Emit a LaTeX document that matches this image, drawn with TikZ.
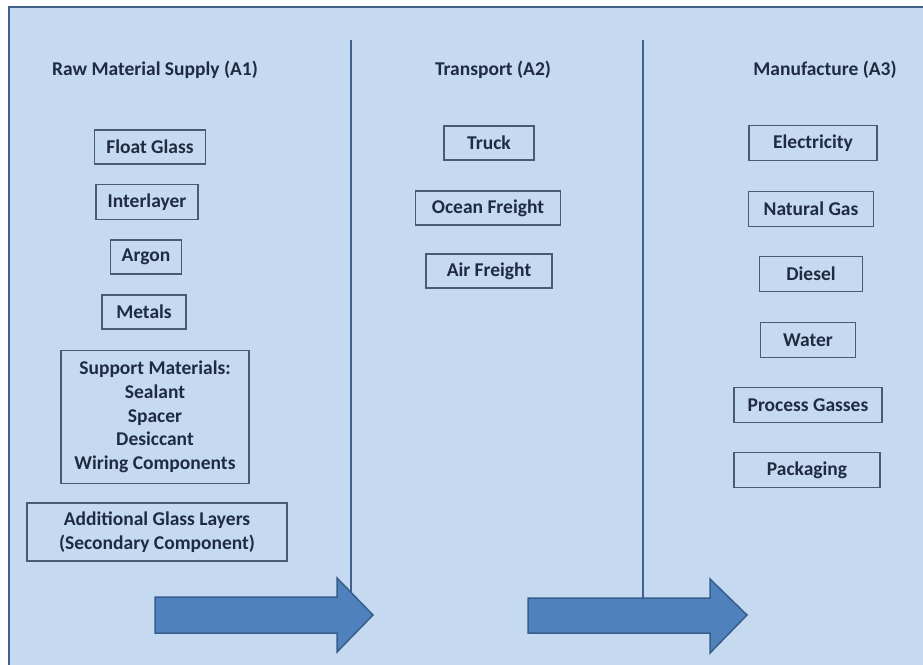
\documentclass[tikz,border=0pt]{standalone}
\usepackage{fontspec}
\setmainfont{Carlito}

\definecolor{panelfill}{HTML}{C5D9F1}
\definecolor{panelline}{HTML}{41618A}
\definecolor{boxline}{HTML}{4A5A70}
\definecolor{inktext}{HTML}{1F2B40}
\definecolor{arrowfill}{HTML}{4F81BD}
\definecolor{arrowline}{HTML}{385D8A}

\begin{document}
\begin{tikzpicture}[x=1pt, y=-1pt,
  panel/.style ={draw=panelline, line width=2.2pt, fill=panelfill},
  divider/.style ={draw=panelline, line width=2.6pt},
  head/.style  ={font=\fontsize{19.5}{23.5}\selectfont\bfseries, text=inktext},
  item/.style  ={draw=boxline, line width=1.2pt, font=\fontsize{19.5}{23.7}\selectfont\bfseries,
                 text=inktext, align=center, inner sep=0pt},
  flow/.style  ={draw=arrowline, line width=1.5pt, fill=arrowfill}]

  \useasboundingbox (0,0) rectangle (923,664);

  % ---------------- background panel ----------------
  \begin{scope}
    \clip (0,0) rectangle (923,664);
    \path[panel] (9,7) rectangle (935,680);
  \end{scope}

  % ---------------- stage dividers ----------------
  \draw[divider] (351,40) -- (351,600);
  \draw[divider] (643,40) -- (643,600);

  % ---------------- stage headings ----------------
  \node[head] (hA1) at (155,70) {Raw Material Supply (A1)};
  \node[head] (hA2) at (493,70) {Transport (A2)};
  \node[head] (hA3) at (825,70) {Manufacture (A3)};

  % ---------------- raw material supply (A1) ----------------
  \node[item, minimum width=111pt, minimum height=34pt] (float) at (150,147) {Float Glass};
  \node[item, minimum width=102pt, minimum height=35pt] (inter) at (147,202) {Interlayer};
  \node[item, minimum width=71pt,  minimum height=34pt] (argon) at (146,257) {Argon};
  \node[item, minimum width=84pt,  minimum height=34pt] (metal) at (144,312) {Metals};
  \node[item, minimum width=188pt, minimum height=133pt] (support) at (155,417)
       {Support Materials:\\Sealant\\Spacer\\Desiccant\\Wiring Components};
  \node[item, minimum width=260pt, minimum height=58pt] (layers) at (157,532)
       {Additional Glass Layers\\(Secondary Component)};

  % ---------------- transport (A2) ----------------
  \node[item, minimum width=90pt,  minimum height=34pt] (truck) at (489,143) {Truck};
  \node[item, minimum width=145pt, minimum height=34pt] (ocean) at (488,208) {Ocean Freight};
  \node[item, minimum width=126pt, minimum height=34pt] (air)   at (489,271) {Air Freight};

  % ---------------- manufacture (A3) ----------------
  \node[item, minimum width=128pt, minimum height=35pt] (elec)   at (813,143) {Electricity};
  \node[item, minimum width=125pt, minimum height=35pt] (gas)    at (811,209) {Natural Gas};
  \node[item, minimum width=103pt, minimum height=35pt] (diesel) at (811,274) {Diesel};
  \node[item, minimum width=95pt,  minimum height=35pt] (water)  at (808,340) {Water};
  \node[item, minimum width=148pt, minimum height=35pt] (proc)   at (808,405) {Process Gasses};
  \node[item, minimum width=146pt, minimum height=35pt] (pack)   at (807,470) {Packaging};

  % ---------------- flow arrows ----------------
  \path[flow] (155,597) -- (337,597) -- (337,578) -- (373,615)
              -- (337,652) -- (337,633) -- (155,633) -- cycle;
  \path[flow] (528,598) -- (710,598) -- (710,579) -- (747,615)
              -- (710,653) -- (710,633) -- (528,633) -- cycle;
\end{tikzpicture}
\end{document}
